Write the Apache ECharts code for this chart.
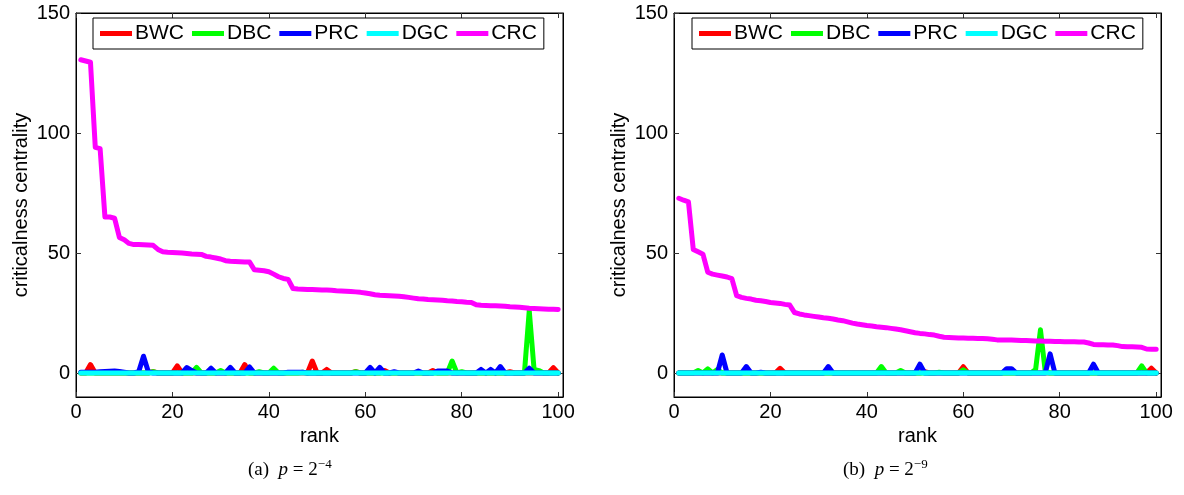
<!DOCTYPE html>
<html>
<head>
<meta charset="utf-8">
<script src="https://cdn.jsdelivr.net/npm/echarts@6/dist/echarts.min.js"></script>
<style>
html,body{margin:0;padding:0;background:#fff;}
#chart{width:1184px;height:495px;}
</style>
</head>
<body>
<div id="chart"></div>
<script>
// ---- data (rank 1..100) ----
var seriesNames = ['BWC', 'DBC', 'PRC', 'DGC', 'CRC'];
var xTicks = [0, 20, 40, 60, 80, 100];
var yTicks = [0, 50, 100, 150];
var captionA = '(a)  {i|p} = 2{s|−4}';
var captionB = '(b)  {i|p} = 2{s|−9}';

// panel (a) p = 2^-4
var BWC_a = [
0,0,3.5,0,0,0,0,0,0,0,
0,0,0,0,0,0.5,0,0,0,0,
3,0,0,0,0,0,0,0,0,0,
0,0,0,0,3.5,0,0,0,0,0,
0,0,0,0,0,0,0,0,5,0,
0,1.5,0,0,0,0,0,0.5,0,0,
0,0,0,1,0,0,0,0,0,0,
0,0,0,1,0,0,0,0,0,0,
0,0,0,0,0,0,0,0,0,0.5,
0,0,0,0,0,0,0,0,2.2,0];
var DBC_a = [
0,0,0,0,0,0,0,0,0,0,
0,0,0,0,0,0.5,0,0,0,0,
0,0,0,0,2.3,0,0,0,0,1,
0,0,0,0,0,0,0,0.5,0,0,
2,0,0,0,0,0,0.3,0,0,0,
0,0,0,0,0,0,0,0.5,0,0,
0,0,0,0,0,0,0,0,0,0,
0,0,0,0,0,0,0,5,0,0.5,
0,0,0,0,0,0,0,0,0,0,
0,0,0,26,1.5,1,0,0,0,0];
var PRC_a = [
0.3,0.3,0.3,0.3,0.5,0.6,0.7,0.8,0.6,0.3,
0,0,0.5,7,0.5,0,0,0,0,0,
0,0,2.3,1,0,0,0,2,0,0,
0,2.3,0,0,0,2.5,0,0,0,0,
0,0,0,0.3,0.3,0.3,0.3,0,0,0,
0,0,0,0,0,0,0,0,0,0,
2.3,0,2.3,0,0,0.5,0,0,0,0,
0.8,0,0,0,0.8,0.8,0.8,0,0,0,
0,0,0,1.5,0,1.5,0,2.7,0,0,
0,0,0,2,0,0,0,0,0,0];
var DGC_a = [
0,0,0,0,0,0,0,0,0,0,
0,0,0,0,0,0,0,0,0,0,
0,0,0,0,0,0,0,0,0,0,
0,0,0,0,0,0,0,0,0,0,
0,0,0,0,0,0,0,0,0,0,
0,0,0,0,0,0,0,0,0,0,
0,0,0,0,0,0,0,0,0,0,
0,0,0,0,0,0,0,0,0,0,
0,0,0,0,0,0,0,0,0,0,
0,0,0,0,0,0,0,0,0,0];
var CRC_a = [
130.5,130,129.5,94,93.5,65,65,64.5,56.5,55.5,
54,53.5,53.5,53.4,53.3,53.2,51.5,50.5,50.3,50.2,
50.1,50,49.8,49.6,49.5,49.4,48.6,48.3,47.9,47.5,
46.8,46.6,46.5,46.4,46.3,46.2,43,42.8,42.6,42.2,
41.2,40.1,39.4,39,35.2,35,34.9,34.8,34.8,34.7,
34.6,34.6,34.5,34.3,34.2,34.1,34,33.8,33.6,33.3,
33,32.6,32.4,32.3,32.2,32.1,32,31.8,31.5,31.2,
30.9,30.8,30.6,30.5,30.4,30.3,30.1,30,29.8,29.7,
29.5,29.4,28.4,28.2,28.1,28,28,27.9,27.8,27.6,
27.5,27.4,27.2,27,26.9,26.8,26.7,26.6,26.6,26.5];

// panel (b) p = 2^-9
var BWC_b = [
0,0,0,0,0,0,0,0,0,0,
0,0,0,0,0,0,0,0,0,0,
0,1.9,0,0,0,0,0,0,0,0,
0,0,0,0,0,0,0,0,0,0,
0,0,0,0,0,0,0,0,0,0,
0,0.5,0,0,0,0,0,0,0,2.6,
0,0,0,0,0,0,0,0,0,0,
0,0,0,0,0,0,0,0,0,0,
0,0,0,0,0,0,0,0,0,0,
0,0,0,0,0,0,0,0,2,0];
var DBC_b = [
0,0,0,0,1,0,1.7,0,1.5,0,
0,0,0,0,0,0,0,0,0,0,
0,0,0,0,0,0,0,0,0,0,
0,0,0,0,0,0,0,0,0,0,
0,0,2.7,0,0,0,1,0,0,0,
0,0,0,0,0.3,0,0,0,0,1.3,
0,0,0,0,0,0,0,0,0,0,
0,0,0,0,1.5,18,0.5,0,0,0,
0,0,0,0,0,0,0,0,0,0,
0,0,0,0,0,0,3,0,0,0];
var PRC_b = [
0,0,0,0,0,0,0,0,0,7.5,
0,0,0,0,2.7,0,0,0.3,0,0,
0,0,0,0,0,0,0,0,0,0,
0,2.7,0,0,0,0,0,0,0,0,
0,0,0,0,0,0,0,0,0,0,
3.7,0,0,0,0,0,0,0,0,0,
0,0,0,0,0,0,0,0,1.8,1.8,
0,0,0,0,0,0,0,8,0,0,
0,0,0,0,0,0,3.7,0,0,0,
0,0,0,0,0,0,0,0,0,0];
var DGC_b = [
0,0,0,0,0,0,0,0,0,0,
0,0,0,0,0,0,0,0,0,0,
0,0,0,0,0,0,0,0,0,0,
0,0,0,0,0,0,0,0,0,0,
0,0,0,0,0,0,0,0,0,0,
0,0,0,0,0,0,0,0,0,0,
0,0,0,0,0,0,0,0,0,0,
0,0,0,0,0,0,0,0,0,0,
0,0,0,0,0,0,0,0,0,0,
0,0,0,0,0,0,0,0,0,0];
var CRC_b = [
72.8,72,71.3,51.5,50.5,49.5,42,41.2,40.8,40.4,
40,39.3,32.2,31.5,31.1,30.8,30.3,30.1,29.8,29.4,
29.2,29,28.6,28.3,25.2,24.6,24.2,23.9,23.6,23.3,
23,22.8,22.5,22.1,21.8,21.3,20.8,20.4,20.1,19.8,
19.6,19.3,19.1,18.9,18.6,18.3,18,17.6,17.2,16.8,
16.5,16.3,16,15.8,15.3,14.9,14.8,14.7,14.6,14.6,
14.5,14.5,14.4,14.4,14.3,14.1,13.8,13.8,13.7,13.7,
13.6,13.5,13.5,13.4,13.3,13.3,13.2,13.2,13.1,13.1,
13,13,13,12.9,12.9,12.5,11.9,11.8,11.8,11.7,
11.7,11.4,11,10.9,10.9,10.8,10.7,10,9.9,9.9];

var colors = ['#ff0000', '#00ff00', '#0000ff', '#00ffff', '#ff00ff'];

// ---- chart ----
var FONT = '"Liberation Sans", Arial, Helvetica, sans-serif';
var SERIF = '"Liberation Serif", "Times New Roman", serif';

function pairs(arr) { return arr.map(function (v, i) { return [i + 1, v]; }); }

var gridW = 487, gridH = 384, gridTop = 13;
var grids = [
  { left: 76, top: gridTop, width: gridW, height: gridH, show: true, borderColor: '#000', borderWidth: 1, backgroundColor: '#fff' },
  { left: 674, top: gridTop, width: gridW, height: gridH, show: true, borderColor: '#000', borderWidth: 1, backgroundColor: '#fff' }
];

function xAx(gi, pos) {
  var main = pos === 'bottom';
  return {
    type: 'value', gridIndex: gi, position: pos, min: 0, max: 101,
    name: main ? 'rank' : '', nameLocation: 'middle', nameGap: 27,
    nameTextStyle: { fontFamily: FONT, fontSize: 20, color: '#000' },
    axisLine: { show: true, onZero: false, lineStyle: { color: '#000', width: 1 } },
    axisTick: { show: true, inside: true, length: 5, customValues: xTicks, lineStyle: { color: '#333' } },
    axisLabel: { show: main, customValues: xTicks, margin: 5, fontFamily: FONT, fontSize: 20, color: '#000' },
    splitLine: { show: false }
  };
}
function yAx(gi, pos) {
  var main = pos === 'left';
  return {
    type: 'value', gridIndex: gi, position: pos, min: -10, max: 150,
    name: main ? 'criticalness centrality' : '', nameLocation: 'middle', nameGap: 45,
    nameTextStyle: { fontFamily: FONT, fontSize: 20, color: '#000' },
    axisLine: { show: true, onZero: false, lineStyle: { color: '#000', width: 1 } },
    axisTick: { show: true, inside: true, length: 5, customValues: yTicks, lineStyle: { color: '#333' } },
    axisLabel: { show: main, customValues: yTicks, margin: 6, fontFamily: FONT, fontSize: 20, color: '#000' },
    splitLine: { show: false }
  };
}

var panelData = [
  [BWC_a, DBC_a, PRC_a, DGC_a, CRC_a],
  [BWC_b, DBC_b, PRC_b, DGC_b, CRC_b]
];
var series = [];
panelData.forEach(function (set, p) {
  set.forEach(function (arr, k) {
    series.push({
      name: seriesNames[k], type: 'line', xAxisIndex: p * 2, yAxisIndex: p * 2,
      data: pairs(arr), showSymbol: false, symbol: 'none', smooth: false,
      lineStyle: { color: colors[k], width: 5, join: 'round', cap: 'round' },
      itemStyle: { color: colors[k] },
      z: 2 + k, silent: true
    });
  });
});

function legend(left) {
  return {
    left: left, top: 18, orient: 'horizontal', data: seriesNames,
    icon: 'rect', itemWidth: 32, itemHeight: 5, itemGap: 8,
    padding: [5, 7, 5, 7], borderColor: '#000', borderWidth: 1, backgroundColor: '#fff',
    textStyle: { fontFamily: FONT, fontSize: 21, color: '#000', padding: [0, 0, 0, -2] },
    selectedMode: false
  };
}

function caption(text, left) {
  return {
    text: text, left: left, top: 453,
    textStyle: {
      fontFamily: SERIF, fontSize: 19, fontWeight: 'normal', color: '#000', lineHeight: 24,
      rich: {
        i: { fontFamily: SERIF, fontSize: 19, fontStyle: 'italic', color: '#000', lineHeight: 24 },
        s: { fontFamily: SERIF, fontSize: 13, color: '#000', verticalAlign: 'top', lineHeight: 14 }
      }
    }
  };
}

var option = {
  animation: false,
  backgroundColor: '#fff',
  title: [caption(captionA, 243), caption(captionB, 838)],
  legend: [legend(93), legend(692)],
  grid: grids,
  xAxis: [xAx(0, 'bottom'), xAx(0, 'top'), xAx(1, 'bottom'), xAx(1, 'top')],
  yAxis: [yAx(0, 'left'), yAx(0, 'right'), yAx(1, 'left'), yAx(1, 'right')],
  series: series
};

var chart = echarts.init(document.getElementById('chart'), null, { renderer: 'canvas' });
chart.setOption(option);
</script>
</body>
</html>
